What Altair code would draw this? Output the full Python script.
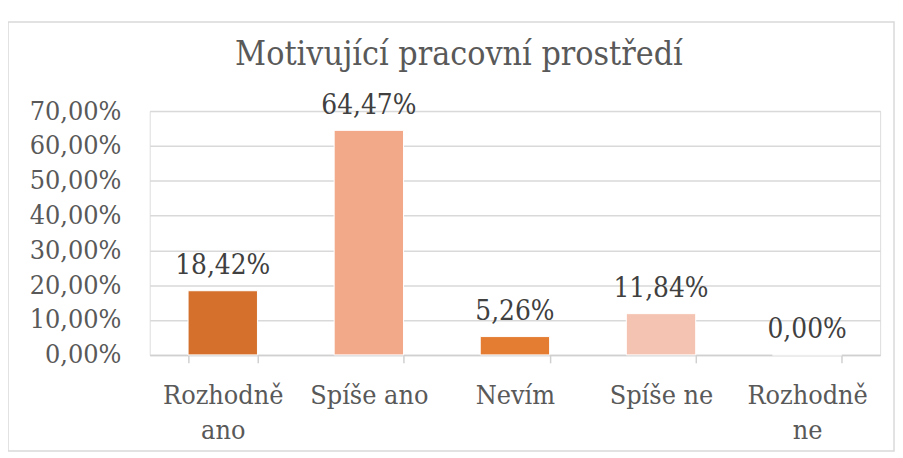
import altair as alt
import pandas as pd

categories = ["Rozhodně ano", "Spíše ano", "Nevím", "Spíše ne", "Rozhodně ne"]
values = [0.1842, 0.6447, 0.0526, 0.1184, 0.0]
bar_colors = ["#D4702C", "#F2A98A", "#E47C32", "#F5C3B1", "#F5C3B1"]
y_ticks = [0, 0.1, 0.2, 0.3, 0.4, 0.5, 0.6, 0.7]
title_text = "Motivující pracovní prostředí"

df = pd.DataFrame({"cat": categories, "val": values})

FONT = "DejaVu Serif Condensed"
W, H = 737, 246

base = alt.Chart(df).transform_calculate(
    lbl="replace(format(datum.val, '.2%'), '.', ',')"
)

x_enc = alt.X(
    "cat:N",
    sort=categories,
    title=None,
    scale=alt.Scale(paddingInner=0.525, paddingOuter=0.2625),
    axis=alt.Axis(
        labelAngle=0,
        labelFont=FONT,
        labelFontSize=27,
        labelColor="#595959",
        labelBaseline="alphabetic",
        labelPadding=41,
        labelLineHeight=35,
        labelOverlap=False,
        labelExpr="indexof(datum.label, 'Rozhodně') == 0 ? split(datum.label, ' ') : datum.label",
        tickBand="extent",
        tickSize=8,
        tickColor="#D0D0D0",
        tickWidth=1.5,
        domainColor="#D0D0D0",
        domainWidth=1.5,
        grid=False,
    ),
)

y_enc = alt.Y(
    "val:Q",
    title=None,
    scale=alt.Scale(domain=[0, 0.7], nice=False),
    axis=alt.Axis(
        values=y_ticks,
        labelExpr="replace(format(datum.value, '.2%'), '.', ',')",
        labelFont=FONT,
        labelFontSize=27,
        labelColor="#595959",
        labelPadding=29,
        labelBaseline="middle",
        labelOverlap=False,
        labelFlush=False,
        domain=False,
        ticks=False,
        gridColor="#D9D9D9",
        gridWidth=1.5,
    ),
)

bars = base.mark_bar(stroke="white", strokeWidth=1).encode(
    x=x_enc,
    y=y_enc,
    color=alt.Color(
        "cat:N",
        scale=alt.Scale(domain=categories, range=bar_colors),
        legend=None,
    ),
)

labels = base.mark_text(
    font=FONT, fontSize=28, color="#404040", baseline="alphabetic", dy=-17
).encode(
    x=x_enc,
    y=y_enc,
    text="lbl:N",
)

deco = pd.DataFrame({"t": [title_text]})

border = alt.Chart(deco).mark_rect(
    fill=None, stroke="#D9D9D9", strokeWidth=1.5
).encode(
    x=alt.value(-143), x2=alt.value(751), y=alt.value(-90), y2=alt.value(343)
)

title = alt.Chart(deco).mark_text(
    font=FONT, fontSize=34, color="#595959", baseline="alphabetic", align="center"
).encode(
    x=alt.value(312), y=alt.value(-47), text="t:N"
)

chart = (
    alt.layer(border, bars, labels, title)
    .properties(
        width=W,
        height=H,
        autosize=alt.AutoSizeParams(type="none"),
        padding={"left": 143, "top": 102, "right": 15, "bottom": 100},
    )
    .configure_view(strokeWidth=0, stroke="transparent")
    .configure(background="white")
)

chart.save("out.html", embed_options={"renderer": "svg", "actions": False})
